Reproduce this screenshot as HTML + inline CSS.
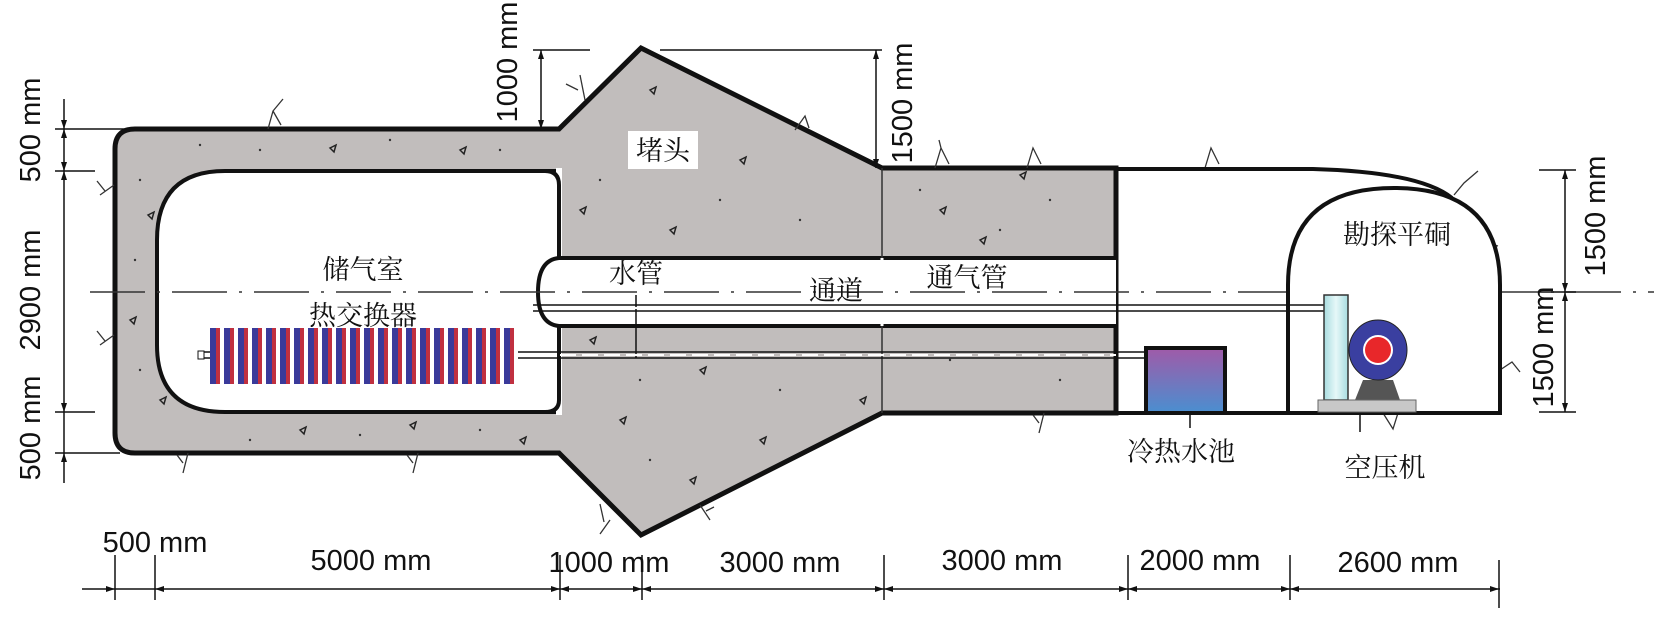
<!DOCTYPE html>
<html><head><meta charset="utf-8"><style>
html,body{margin:0;padding:0;background:#fff;}
svg{display:block;}
.d{font-family:"Liberation Sans",Arial,sans-serif;font-size:29px;fill:#111;}
.c{font-family:"Liberation Serif","Noto Serif CJK SC",serif;font-size:27px;fill:#111;}
</style></head><body>
<svg width="1654" height="621" viewBox="0 0 1654 621" xmlns="http://www.w3.org/2000/svg">
<defs>
<linearGradient id="tank" x1="0" y1="0" x2="0" y2="1"><stop offset="0" stop-color="#a05aa8"/><stop offset="1" stop-color="#4a8fd0"/></linearGradient>
<linearGradient id="col" x1="0" y1="0" x2="1" y2="0"><stop offset="0" stop-color="#a8dce0"/><stop offset="0.5" stop-color="#e6f8f8"/><stop offset="1" stop-color="#a8dce0"/></linearGradient>
<pattern id="hx" width="14" height="60" patternUnits="userSpaceOnUse"><rect width="14" height="60" fill="#fff"/><rect x="0" width="6" height="60" fill="#3a3a9a"/><rect x="6" width="4" height="60" fill="#c03040"/></pattern>
</defs>

<!-- concrete chamber -->
<path d="M135,129 L559,129 L641,48 L882,168 L1116,168 L1116,413 L882,413 L641,535 L559,453 L135,453 Q115,453 115,433 L115,149 Q115,129 135,129 Z" fill="#c1bdbc" stroke="#111" stroke-width="5" stroke-linejoin="miter"/>
<!-- inner cavity -->
<path d="M559,171 L225,171 Q157,171 157,240 L157,345 Q157,412 225,412 L559,412 Z" fill="#fff" stroke="#111" stroke-width="4"/>
<rect x="556" y="168" width="6" height="247" fill="#fff"/>
<path d="M545,171 Q559,171 559,185 L559,400 Q559,412 545,412" fill="none" stroke="#111" stroke-width="4"/>
<!-- passage -->
<path d="M1116,258 L559,258 Q538,260 538,292 Q538,324 559,326 L1116,326" fill="#fff" stroke="#111" stroke-width="4"/>
<line x1="882" y1="168" x2="882" y2="413" stroke="#333" stroke-width="1.5"/>
<line x1="882" y1="258" x2="882" y2="326" stroke="#fff" stroke-width="3"/>

<!-- texture -->
<g fill="none" stroke="#222" stroke-width="1.5">
<path d="M148,215 l6,-3 l-2,7z M130,320 l6,-3 l-2,7z M160,400 l6,-3 l-2,7z M300,430 l6,-3 l-2,7z M460,150 l6,-3 l-2,7z M330,148 l6,-3 l-2,7z M650,90 l6,-3 l-2,7z M740,160 l6,-3 l-2,7z M580,210 l6,-3 l-2,7z M670,230 l6,-3 l-2,7z M700,370 l6,-3 l-2,7z M620,420 l6,-3 l-2,7z M690,480 l6,-3 l-2,7z M760,440 l6,-3 l-2,7z M940,210 l6,-3 l-2,7z M980,240 l6,-3 l-2,7z M1020,175 l6,-3 l-2,7z M590,340 l6,-3 l-2,7z M410,425 l6,-3 l-2,7z M520,440 l6,-3 l-2,7z M860,400 l6,-3 l-2,7z"/>
</g>
<g fill="#333">
<circle cx="140" cy="180" r="1.2"/><circle cx="200" cy="145" r="1.2"/><circle cx="260" cy="150" r="1.2"/><circle cx="390" cy="140" r="1.2"/><circle cx="500" cy="150" r="1.2"/><circle cx="135" cy="260" r="1.2"/><circle cx="140" cy="370" r="1.2"/><circle cx="250" cy="440" r="1.2"/><circle cx="360" cy="435" r="1.2"/><circle cx="480" cy="430" r="1.2"/><circle cx="600" cy="180" r="1.2"/><circle cx="720" cy="200" r="1.2"/><circle cx="800" cy="220" r="1.2"/><circle cx="640" cy="380" r="1.2"/><circle cx="780" cy="390" r="1.2"/><circle cx="650" cy="460" r="1.2"/><circle cx="920" cy="190" r="1.2"/><circle cx="1050" cy="200" r="1.2"/><circle cx="1000" cy="230" r="1.2"/><circle cx="950" cy="360" r="1.2"/><circle cx="1060" cy="380" r="1.2"/>
</g>

<!-- rock marks -->
<g fill="none" stroke="#333" stroke-width="1.3">
<path d="M268,129 l5,-18 l10,-12 M273,111 l8,14"/><path d="M100,195 l14,-10 M105,191 l-8,-10"/><path d="M100,345 l14,-10 M105,341 l-8,-10"/><path d="M188,453 l-5,20 M183,463 l-6,-8"/><path d="M418,453 l-5,20 M413,463 l-6,-8"/>
<path d="M585,100 l-5,-25 M578,90 l-12,-6"/><path d="M795,130 l10,-14 l4,12"/><path d="M610,520 l-10,14 M600,504 l4,18"/><path d="M700,505 l10,15 M706,511 l8,-4"/>
<path d="M935,168 l6,-20 l8,16 M941,148 l-2,-8"/><path d="M1027,168 l6,-20 l8,16"/><path d="M1205,168 l6,-20 l8,16"/><path d="M1044,413 l-5,20 M1039,423 l-6,-8"/><path d="M1454,195 l10,-12 l14,-12"/><path d="M1468,250 l14,-8 l16,4"/><path d="M1500,370 l12,-8 l8,10"/><path d="M1383,413 l10,16 l5,-16"/>
</g>

<!-- centerline -->
<line x1="90" y1="292" x2="1654" y2="292" stroke="#333" stroke-width="1.5" stroke-dasharray="55,12,3,12"/>

<!-- exploration adit -->
<path d="M1116,169 L1313,169 Q1420,172 1452,198" fill="none" stroke="#111" stroke-width="4"/>
<path d="M1288,413 L1288,285 Q1288,188 1394,188 Q1500,188 1500,285 L1500,413 Z" fill="#fff" stroke="#111" stroke-width="4"/>
<line x1="1116" y1="413" x2="1500" y2="413" stroke="#111" stroke-width="4"/>

<!-- pipes -->
<g stroke="#111" stroke-width="1.5" fill="none">
<line x1="533" y1="305" x2="1324" y2="305"/><line x1="533" y1="311" x2="1324" y2="311"/>
<line x1="203" y1="352" x2="1146" y2="352"/><line x1="203" y1="358" x2="1146" y2="358"/>
<line x1="636" y1="295" x2="636" y2="358"/>
</g>
<line x1="560" y1="308" x2="1116" y2="308" stroke="#fff" stroke-width="2" stroke-dasharray="16,6"/>
<line x1="560" y1="355" x2="1116" y2="355" stroke="#fff" stroke-width="2" stroke-dasharray="16,6"/>
<rect x="198" y="351" width="6" height="8" fill="#fff" stroke="#111"/>
<!-- heat exchanger -->
<rect x="210" y="328" width="308" height="56" fill="url(#hx)"/>

<!-- tank -->
<rect x="1146" y="348" width="79" height="65" fill="url(#tank)" stroke="#111" stroke-width="4"/>
<!-- compressor -->
<rect x="1324" y="295" width="24" height="105" fill="url(#col)" stroke="#333" stroke-width="1.5"/>
<polygon points="1363,380 1393,380 1400,400 1355,400" fill="#555"/>
<ellipse cx="1378" cy="350" rx="29" ry="30" fill="#3a3fa0" stroke="#222"/>
<circle cx="1378" cy="350" r="15" fill="#fff"/>
<circle cx="1378" cy="350" r="13" fill="#e8272a"/>
<rect x="1318" y="400" width="98" height="12" fill="#c8c8c8" stroke="#666"/>
<line x1="1190" y1="413" x2="1190" y2="428" stroke="#111" stroke-width="1.5"/>
<line x1="1360" y1="413" x2="1360" y2="432" stroke="#111" stroke-width="1.5"/>

<!-- dimensions -->
<g stroke="#111" stroke-width="1.5" fill="none">
<line x1="64" y1="99" x2="64" y2="483"/>
<line x1="55" y1="129" x2="135" y2="129"/><line x1="55" y1="171" x2="95" y2="171"/><line x1="55" y1="412" x2="95" y2="412"/><line x1="55" y1="453" x2="120" y2="453"/>
<line x1="82" y1="589" x2="1500" y2="589"/>
<line x1="115" y1="555" x2="115" y2="600"/><line x1="155" y1="555" x2="155" y2="600"/><line x1="560" y1="555" x2="560" y2="600"/><line x1="642" y1="555" x2="642" y2="600"/><line x1="884" y1="555" x2="884" y2="600"/><line x1="1128" y1="555" x2="1128" y2="600"/><line x1="1290" y1="555" x2="1290" y2="600"/><line x1="1499" y1="560" x2="1499" y2="608"/>
<line x1="533" y1="50" x2="590" y2="50"/><line x1="660" y1="50" x2="882" y2="50"/>
<line x1="541" y1="50" x2="541" y2="129"/><line x1="876" y1="50" x2="876" y2="168"/>
<line x1="1565" y1="170" x2="1565" y2="412"/><line x1="1539" y1="170" x2="1576" y2="170"/><line x1="1539" y1="412" x2="1576" y2="412"/><line x1="1539" y1="292" x2="1576" y2="292"/>
</g>
<g fill="#111">
<path d="M64,129 l-3,-9 h6z M64,171 l-3,9 h6z M64,412 l-3,-9 h6z M64,453 l-3,9 h6z M64,129 l-3,9 h6z M64,171 l-3,-9 h6z"/>
<path d="M541,50 l-3,9 h6z M541,129 l-3,-9 h6z M876,168 l-3,-9 h6z M876,50 l-3,9 h6z"/>
<path d="M1565,170 l-3,9 h6z M1565,412 l-3,-9 h6z M1565,292 l-3,-9 h6z M1565,292 l-3,9 h6z"/>
<path d="M115,589 l-9,-3 v6z M155,589 l9,-3 v6z M560,589 l-9,-3 v6z M560,589 l9,-3 v6z M642,589 l-9,-3 v6z M642,589 l9,-3 v6z M884,589 l-9,-3 v6z M884,589 l9,-3 v6z M1128,589 l-9,-3 v6z M1128,589 l9,-3 v6z M1290,589 l-9,-3 v6z M1290,589 l9,-3 v6z M1499,589 l-9,-3 v6z"/>
</g>
<g class="d" text-anchor="middle">
<text x="155" y="552">500 mm</text>
<text x="371" y="570">5000 mm</text>
<text x="609" y="572">1000 mm</text>
<text x="780" y="572">3000 mm</text>
<text x="1002" y="570">3000 mm</text>
<text x="1200" y="570">2000 mm</text>
<text x="1398" y="572">2600 mm</text>
<text transform="translate(40,130) rotate(-90)">500 mm</text>
<text transform="translate(40,290) rotate(-90)">2900 mm</text>
<text transform="translate(40,428) rotate(-90)">500 mm</text>
<text transform="translate(517,62) rotate(-90)">1000 mm</text>
<text transform="translate(912,103) rotate(-90)">1500 mm</text>
<text transform="translate(1605,216) rotate(-90)">1500 mm</text>
<text transform="translate(1553,347) rotate(-90)">1500 mm</text>
</g>

<!-- labels -->
<rect x="628" y="131" width="70" height="38" fill="#fff"/>
<g class="c" text-anchor="middle">
<text x="663" y="160">堵头</text>
<text x="363" y="279">储气室</text>
<text x="363" y="325">热交换器</text>
<text x="636" y="283">水管</text>
<text x="836" y="300">通道</text>
<text x="967" y="287">通气管</text>
<text x="1397" y="244">勘探平硐</text>
<text x="1181" y="461">冷热水池</text>
<text x="1385" y="477">空压机</text>
</g>
</svg>
</body></html>
